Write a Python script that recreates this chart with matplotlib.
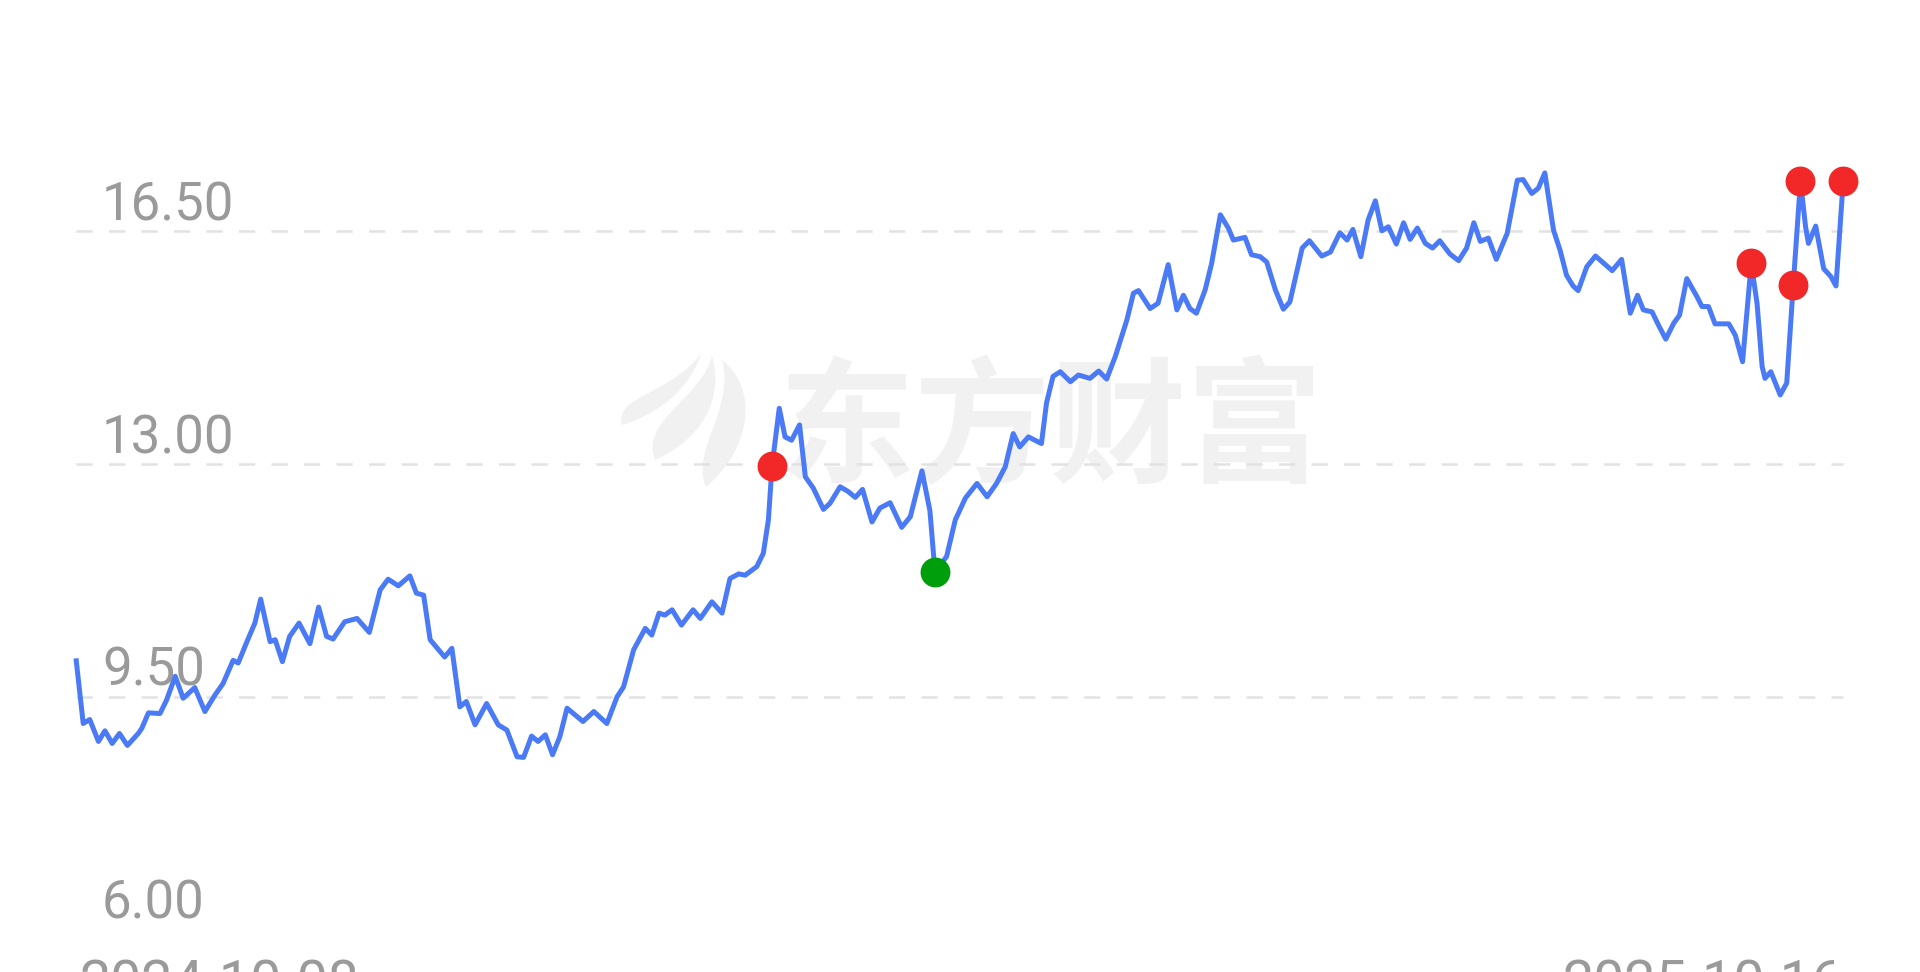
import numpy as np
import matplotlib.pyplot as plt
from matplotlib.path import Path
from matplotlib.patches import PathPatch

# trading-day offset from 2024-10-08 and closing price
days = [0, 1.0, 1.9, 3.1, 4.0, 5.0, 6.0, 7.1, 8.6, 9.1, 10.0, 11.6, 12.5, 13.7, 14.8,
        16.4, 17.8, 19.2, 20.3, 21.7, 22.4, 23.6, 24.7, 25.5, 26.8, 27.5, 28.5, 29.5,
        30.8, 32.3, 33.5, 34.6, 35.5, 37.1, 38.8, 40.5, 42.0, 43.1, 44.5, 46.1, 47.0,
        48.0, 48.9, 50.9, 51.9, 53.0, 53.9, 55.1, 56.7, 58.3, 59.5, 60.9, 61.8, 62.9,
        63.8, 64.8, 65.8, 66.8, 67.8, 70.0, 71.5, 73.3, 74.7, 75.6, 77.0, 78.6, 79.5,
        80.5, 81.3, 82.3, 83.6, 85.2, 86.2, 87.8, 89.2, 90.3, 91.5, 92.4, 94.0, 94.9,
        95.6, 96.1, 97.1, 97.9, 98.8, 99.9, 100.7, 101.8, 103.2, 104.1, 105.5, 106.6,
        107.6, 108.6, 109.9, 111.0, 112.4, 114.0, 115.2, 116.8, 117.9, 118.6, 120.2,
        121.4, 122.8, 124.4, 125.8, 127.1, 128.3, 129.4, 130.3, 131.5, 133.3, 134.0,
        134.9, 135.9, 137.3, 138.4, 140.0, 141.2, 142.3, 143.5, 145.1, 146.0, 146.7,
        148.3, 149.4, 150.8, 152.0, 152.9, 153.8, 154.7, 155.9, 156.8, 158.0, 159.1,
        159.8, 161.4, 162.3, 163.5, 164.4, 165.6, 166.7, 167.6, 169.3, 170.3, 172.0,
        173.2, 174.5, 175.5, 176.3, 177.4, 178.4, 179.4, 180.3, 181.2, 182.3, 183.3,
        184.2, 185.2, 186.3, 187.3, 188.3, 189.7, 190.9, 192.0, 193.0, 193.9, 195.0,
        196.1, 197.6, 199.0, 199.8, 201.0, 201.9, 202.8, 204.0, 204.9, 205.8, 206.7,
        207.4, 208.6, 209.8, 212.1, 213.4, 214.6, 215.6, 216.4, 217.6, 218.5, 219.5,
        220.6, 221.4, 222.4, 223.8, 224.5, 225.4, 226.3, 228.2, 229.1, 230.1, 231.3,
        232.1, 232.8, 233.2, 234.0, 235.3, 236.2, 237.1, 238.1, 238.8, 239.2, 240.2,
        241.3, 242.3, 243.0, 244.0]
prices = [10.08, 9.10, 9.16, 8.83, 8.99, 8.80, 8.95, 8.77, 8.95, 9.03, 9.26, 9.25, 9.45,
          9.81, 9.48, 9.64, 9.28, 9.53, 9.70, 10.05, 10.01, 10.33, 10.61, 10.97, 10.33,
          10.36, 10.03, 10.41, 10.61, 10.30, 10.85, 10.41, 10.37, 10.63, 10.68, 10.47,
          11.11, 11.27, 11.17, 11.32, 11.06, 11.03, 10.36, 10.10, 10.23, 9.35, 9.43, 9.08,
          9.40, 9.08, 9.00, 8.60, 8.59, 8.91, 8.83, 8.93, 8.63, 8.90, 9.33, 9.13, 9.28,
          9.10, 9.50, 9.65, 10.21, 10.53, 10.43, 10.76, 10.73, 10.81, 10.58, 10.81, 10.68,
          10.93, 10.76, 11.28, 11.35, 11.33, 11.46, 11.66, 12.16, 12.97, 13.84, 13.41,
          13.36, 13.59, 12.81, 12.64, 12.32, 12.41, 12.66, 12.59, 12.50, 12.62, 12.13,
          12.34, 12.42, 12.05, 12.21, 12.90, 12.30, 11.38, 11.61, 12.16, 12.49, 12.71,
          12.51, 12.71, 12.96, 13.46, 13.26, 13.41, 13.31, 13.92, 14.32, 14.39, 14.24,
          14.34, 14.29, 14.40, 14.28, 14.62, 15.17, 15.57, 15.61, 15.34, 15.42, 16.00,
          15.32, 15.54, 15.34, 15.27, 15.62, 16.02, 16.75, 16.55, 16.37, 16.41, 16.15,
          16.12, 16.04, 15.62, 15.33, 15.44, 16.25, 16.36, 16.13, 16.19, 16.48, 16.37,
          16.53, 16.12, 16.67, 16.96, 16.51, 16.57, 16.31, 16.63, 16.38, 16.55, 16.32,
          16.25, 16.36, 16.16, 16.06, 16.25, 16.63, 16.35, 16.40, 16.08, 16.47, 17.27,
          17.28, 17.07, 17.15, 17.38, 16.52, 16.22, 15.84, 15.68, 15.61, 15.97, 16.13,
          15.91, 16.08, 15.27, 15.54, 15.32, 15.29, 15.09, 14.88, 15.12, 15.24, 15.79,
          15.52, 15.37, 15.37, 15.11, 15.11, 14.94, 14.54, 16.02, 15.42, 14.47, 14.29,
          14.39, 14.04, 14.22, 15.70, 17.26, 16.57, 16.32, 16.58, 15.94, 15.82, 15.68,
          17.26]

red_days = [96.1, 231.3, 237.1, 238.1, 244.0]
green_days = [118.6]
grid_levels = [16.5, 13.0, 9.5]
tick_levels = [16.5, 13.0, 9.5, 6.0]
date_labels = ['2024-10-08', '2025-10-16']

W, H = 1920, 972
LINE = '#4a7af5'
GREY = '#9a9a9a'


def px(x, y):
    # image pixel -> figure fraction
    return x / W, 1 - y / H


fig = plt.figure(figsize=(W / 100, H / 100), dpi=100)
ax = fig.add_axes([0, 0, 1, 1])
ax.set_xlim(-10.49, 254.6)
ax.set_ylim(5.363, 19.98)
ax.axis('off')

# watermark logo (faint blades) and name, kept underneath everything
wm = '#f1f1f1'
blades = [
    [(622, 425), (615, 395), (665, 398), (702, 353), (690, 385), (665, 412), (622, 425)],
    [(655, 460), (640, 420), (700, 400), (712, 356), (725, 400), (700, 440), (655, 460)],
    [(706, 487), (690, 450), (735, 410), (722, 360), (760, 390), (750, 450), (706, 487)],
]
for pts in blades:
    verts = [px(x, y) for x, y in pts]
    codes = [Path.MOVETO, Path.CURVE4, Path.CURVE4, Path.CURVE4,
             Path.CURVE4, Path.CURVE4, Path.CURVE4]
    ax.add_patch(PathPatch(Path(verts, codes), transform=fig.transFigure,
                           facecolor=wm, edgecolor='none', zorder=0))
ax.text(*px(1050, 432), '东方财富', fontsize=98, fontweight='bold', color=wm,
        family=['Noto Sans CJK SC', 'DejaVu Sans'], ha='center', va='center',
        transform=fig.transFigure, zorder=0)

# dashed grid
ax.hlines(grid_levels, 0, days[-1], colors='#e2e2e2', linewidth=1.8,
          linestyles=(0, (6.5, 6.5)), zorder=1)

# y labels sit just above their level
for lvl in tick_levels:
    ax.text(3.6, lvl + 0.165, f'{lvl:.2f}', fontsize=38, color=GREY,
            family='Roboto', ha='left', va='baseline', zorder=2)

ax.plot(days, prices, color=LINE, linewidth=3.6, solid_joinstyle='round',
        solid_capstyle='butt', zorder=3)

red_vals = [prices[days.index(d)] for d in red_days]
green_vals = [prices[days.index(d)] for d in green_days]
ax.plot(red_days, red_vals, 'o', color='#f22727', markersize=21.5,
        markeredgewidth=0, zorder=4)
ax.plot(green_days, green_vals, 'o', color='#009d0c', markersize=21.5,
        markeredgewidth=0, zorder=4)

fig.text(*px(80, 958), date_labels[0], fontsize=40, color=GREY, family='Roboto',
         ha='left', va='top')
fig.text(*px(1843, 958), date_labels[1], fontsize=40, color=GREY, family='Roboto',
         ha='right', va='top')

fig.savefig('out.png', dpi=100, facecolor='white')
